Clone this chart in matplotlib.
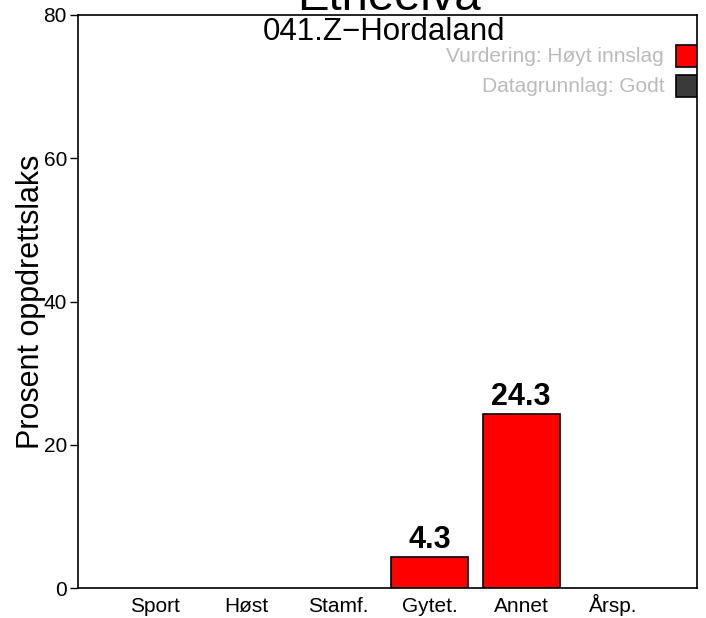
import numpy as np
import matplotlib
matplotlib.use('Agg')
from matplotlib import pyplot as plt
from matplotlib.patches import Rectangle

categories = ['Sport', 'Høst', 'Stamf.', 'Gytet.', 'Annet', 'Årsp.']
values = [0, 0, 0, 4.3, 24.3, 0]
shown = [None, None, None, '4.3', '24.3', None]
legend_labels = ['Vurdering: Høyt innslag', 'Datagrunnlag: Godt']
legend_colors = ['#ff0000', '#3a3a3a']

plt.rcParams['font.family'] = ['Liberation Sans', 'DejaVu Sans']

fig = plt.figure(figsize=(7.06, 6.18), dpi=100)
ax = fig.add_axes([78/706, 1 - 588/618, (697-78)/706, (588-15)/618])

x = np.arange(len(categories))
for xi, v in zip(x, values):
    if v > 0:
        ax.bar(xi, v, width=0.84, color='#ff0000', edgecolor='black', linewidth=1.2)
for xi, v, s in zip(x, values, shown):
    if s:
        ax.text(xi, v + 0.3, s, ha='center', va='bottom', fontsize=22, fontweight='bold')

ax.set_xlim(-0.84, 5.92)
ax.set_ylim(0, 80)
ax.set_xticks(x)
ax.set_xticklabels(categories, fontsize=15, va='baseline')
ax.set_yticks([0, 20, 40, 60, 80])
ax.tick_params(axis='x', length=0, pad=17)
ax.tick_params(axis='y', labelsize=15, length=6, width=1, pad=2)
for s in ax.spines.values():
    s.set_linewidth(1.2)
ax.set_ylabel('Prosent oppdrettslaks', fontsize=22, va='center')
ax.yaxis.set_label_coords(-47/619, 0.5)

ax.text(0.495, 0.997, '041.Z\u2212Hordaland', transform=ax.transAxes, ha='center', va='top', fontsize=22.5)

# legend-like boxes on right
for i, (lab, col) in enumerate(zip(legend_labels, legend_colors)):
    yc = 1 - (56 - 15 + i * 30) / 573
    ax.text(0.947, yc, lab, transform=ax.transAxes, ha='right', va='center', fontsize=15, color='#bbbbbb')
    ax.add_patch(Rectangle((0.966, yc - 0.019), 0.04, 0.038, transform=ax.transAxes,
                           facecolor=col, edgecolor='black', linewidth=1.2, clip_on=True))

fig.text(389/706, 1 - 10/618, 'Etneelva', ha='center', va='baseline', fontsize=34)

fig.savefig('out.png', dpi=100)
